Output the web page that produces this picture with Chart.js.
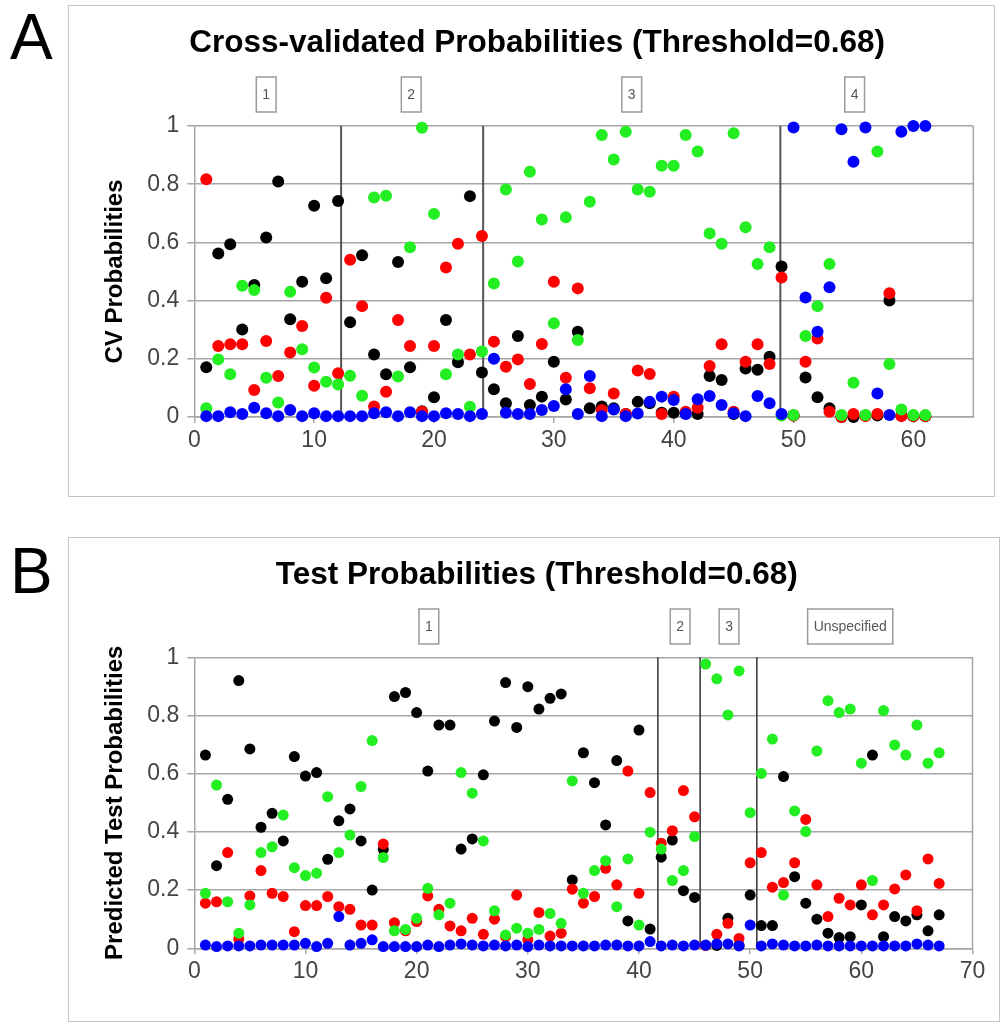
<!DOCTYPE html>
<html>
<head>
<meta charset="utf-8">
<script src="https://cdn.jsdelivr.net/npm/chart.js@4.4.1/dist/chart.umd.min.js"></script>
<style>
  body { margin: 0; background: #fff; width: 1003px; height: 1025px; position: relative; overflow: hidden;
         font-family: "Liberation Sans", Arial, sans-serif; }
  .frame { position: absolute; border: 1.5px solid #c4c4c4; box-sizing: border-box; }
  .letter { position: absolute; font-size: 64px; line-height: 1; color: #000; }
  canvas { position: absolute; }
</style>
</head>
<body>
<div class="letter" style="left:10px;top:5px">A</div>
<div class="letter" style="left:10px;top:539px">B</div>
<div class="frame" style="left:68px;top:5px;width:927px;height:492px"></div>
<div class="frame" style="left:68px;top:537px;width:932px;height:485px"></div>
<canvas id="cv" width="927" height="492" style="left:68px;top:5px"></canvas>
<canvas id="test" width="932" height="485" style="left:68px;top:537px"></canvas>
<script>
// panel A: cross-validated probabilities, samples 1..61
const cvBlack = [0.171,0.562,0.594,0.301,0.454,0.617,0.809,0.336,0.465,0.726,
  0.477,0.742,0.326,0.556,0.215,0.147,0.533,0.171,0.02,0.068,
  0.333,0.188,0.759,0.153,0.095,0.047,0.278,0.041,0.07,0.19,
  0.06,0.293,0.03,0.036,0.03,0.01,0.052,0.047,0.015,0.015,
  0.012,0.01,0.141,0.127,0.01,0.167,0.162,0.207,0.517,0.005,
  0.136,0.068,0.03,0.0,0.0,0.005,0.005,0.4,0.005,0.003,
  0.003];
const cvRed = [0.817,0.244,0.25,0.25,0.093,0.261,0.141,0.222,0.313,0.107,
  0.41,0.15,0.54,0.381,0.036,0.087,0.333,0.244,0.018,0.244,
  0.514,0.595,0.215,0.622,0.259,0.173,0.198,0.113,0.251,0.465,
  0.135,0.442,0.099,0.024,0.081,0.01,0.16,0.148,0.01,0.07,
  0.018,0.032,0.175,0.25,0.018,0.19,0.25,0.182,0.479,0.005,
  0.19,0.27,0.018,0.0,0.01,0.003,0.01,0.425,0.003,0.003,
  0.003];
const cvGreen = [0.03,0.198,0.147,0.451,0.436,0.135,0.05,0.43,0.233,0.17,
  0.121,0.112,0.142,0.073,0.754,0.76,0.139,0.583,0.994,0.698,
  0.147,0.215,0.035,0.225,0.459,0.782,0.534,0.843,0.679,0.322,
  0.686,0.265,0.74,0.969,0.885,0.98,0.782,0.774,0.863,0.863,
  0.969,0.912,0.631,0.595,0.975,0.652,0.526,0.583,0.005,0.007,
  0.278,0.381,0.526,0.007,0.118,0.007,0.912,0.182,0.026,0.007,
  0.007];
const cvBlue = [0.003,0.003,0.016,0.01,0.032,0.013,0.003,0.024,0.003,0.013,
  0.003,0.003,0.003,0.003,0.013,0.016,0.003,0.016,0.003,0.003,
  0.013,0.01,0.003,0.01,0.2,0.015,0.01,0.01,0.024,0.038,
  0.095,0.01,0.141,0.003,0.026,0.003,0.012,0.052,0.07,0.058,
  0.01,0.061,0.072,0.041,0.013,0.003,0.072,0.047,0.01,0.995,
  0.411,0.293,0.446,0.989,0.877,0.995,0.081,0.007,0.98,1.0,
  1.0];
const cvGroupLines = [12.25, 24.1, 48.9];
const cvGroupLabels = ['1', '2', '3', '4'];
const cvGroupCenters = [6.0, 18.1, 36.5, 55.1];

// panel B: test probabilities, samples 1..67
const testBlack = [0.664,0.284,0.512,0.92,0.685,0.416,0.464,0.369,0.659,0.592,
  0.604,0.306,0.438,0.479,0.369,0.2,0.34,0.865,0.879,0.81,
  0.609,0.767,0.767,0.341,0.376,0.596,0.781,0.913,0.759,0.899,
  0.822,0.859,0.874,0.235,0.672,0.569,0.424,0.645,0.094,0.75,
  0.066,0.313,0.372,0.198,0.175,0.01,0.01,0.103,0.01,0.183,
  0.078,0.078,0.59,0.246,0.155,0.1,0.052,0.037,0.04,0.149,
  0.664,0.04,0.109,0.094,0.115,0.06,0.115];
const testRed = [0.155,0.16,0.329,0.032,0.18,0.267,0.189,0.178,0.057,0.147,
  0.147,0.178,0.143,0.134,0.08,0.08,0.358,0.088,0.06,0.092,
  0.18,0.134,0.077,0.06,0.103,0.048,0.1,0.04,0.183,0.03,
  0.123,0.042,0.052,0.203,0.155,0.178,0.275,0.218,0.609,0.189,
  0.535,0.361,0.404,0.542,0.452,0.01,0.048,0.086,0.034,0.294,
  0.329,0.21,0.226,0.294,0.443,0.218,0.109,0.172,0.149,0.218,
  0.115,0.149,0.204,0.252,0.129,0.307,0.223];
const testGreen = [0.189,0.561,0.16,0.052,0.149,0.329,0.349,0.458,0.277,0.25,
  0.258,0.521,0.329,0.389,0.556,0.714,0.312,0.06,0.065,0.103,
  0.206,0.115,0.155,0.604,0.533,0.369,0.129,0.046,0.069,0.052,
  0.065,0.12,0.086,0.575,0.189,0.267,0.301,0.143,0.307,0.08,
  0.399,0.341,0.233,0.267,0.384,0.977,0.926,0.802,0.953,0.466,
  0.601,0.719,0.183,0.472,0.401,0.678,0.851,0.81,0.822,0.636,
  0.233,0.817,0.699,0.664,0.767,0.636,0.672];
const testBlue = [0.011,0.006,0.008,0.008,0.008,0.011,0.011,0.011,0.011,0.017,
  0.006,0.017,0.109,0.011,0.017,0.029,0.006,0.006,0.006,0.006,
  0.011,0.006,0.011,0.015,0.011,0.008,0.011,0.008,0.011,0.006,
  0.011,0.008,0.008,0.008,0.008,0.008,0.011,0.011,0.008,0.008,
  0.023,0.008,0.011,0.008,0.011,0.011,0.015,0.015,0.008,0.08,
  0.008,0.015,0.011,0.008,0.008,0.011,0.008,0.008,0.008,0.008,
  0.008,0.008,0.008,0.008,0.015,0.011,0.008];
const testGroupLines = [41.7, 45.5, 50.6];
const testGroupLabels = ['1', '2', '3', 'Unspecified'];
const testGroupCenters = [21.1, 43.7, 48.1, 59.0];

const GRID = '#a6a6a6';
Chart.defaults.font.family = '"Liberation Sans", Arial, sans-serif';

function points(values) {
  return values.map((v, i) => ({ x: i + 1, y: v }));
}

// plot frame, group separators and the little group label boxes
const panelDecor = {
  id: 'panelDecor',
  beforeDatasetsDraw(chart, args, o) {
    const { ctx, chartArea: a, scales: { x } } = chart;
    ctx.save();
    ctx.strokeStyle = GRID;
    ctx.lineWidth = 1.5;
    ctx.beginPath();
    ctx.moveTo(a.right, a.top);
    ctx.lineTo(a.right, a.bottom);
    ctx.stroke();
    ctx.strokeStyle = o.lineColor;
    ctx.lineWidth = o.lineWidth;
    o.lines.forEach(v => {
      const px = x.getPixelForValue(v);
      ctx.beginPath();
      ctx.moveTo(px, a.top);
      ctx.lineTo(px, a.bottom);
      ctx.stroke();
    });
    ctx.restore();
  },
  afterDraw(chart, args, o) {
    const { ctx, scales: { x } } = chart;
    ctx.save();
    ctx.font = '14px "Liberation Sans", Arial, sans-serif';
    ctx.textAlign = 'center';
    ctx.textBaseline = 'middle';
    o.labels.forEach((txt, i) => {
      const cx = x.getPixelForValue(o.centers[i]);
      const w = ctx.measureText(txt).width + 12;
      const h = 35, cy = 89.5;
      ctx.fillStyle = '#fff';
      ctx.fillRect(cx - w / 2, cy - h / 2, w, h);
      ctx.strokeStyle = '#9a9a9a';
      ctx.lineWidth = 1.5;
      ctx.strokeRect(cx - w / 2, cy - h / 2, w, h);
      ctx.fillStyle = '#555';
      ctx.fillText(txt, cx, cy + 1);
    });
    ctx.restore();
  }
};

function makePanel(id, cfg) {
  const dot = (label, data, color) => ({
    label, data: points(data),
    backgroundColor: color, borderColor: color, borderWidth: 0,
    pointRadius: cfg.radius, pointHoverRadius: cfg.radius, clip: false
  });
  return new Chart(document.getElementById(id), {
    type: 'scatter',
    data: {
      // first dataset is drawn on top
      datasets: [
        dot('Blue', cfg.blue, '#0000ff'),
        dot('Green', cfg.green, '#22ee22'),
        dot('Red', cfg.red, '#ff0000'),
        dot('Black', cfg.black, '#000000')
      ]
    },
    options: {
      responsive: false,
      animation: false,
      devicePixelRatio: 1,
      layout: { padding: cfg.padding },
      plugins: {
        legend: { display: false },
        tooltip: { enabled: false },
        title: {
          display: true, text: cfg.title, color: '#000',
          font: { size: 31.5, weight: 'bold' },
          padding: { top: 19, bottom: cfg.titleGap }
        },
        panelDecor: {
          lines: cfg.lines, lineColor: cfg.lineColor, lineWidth: cfg.lineWidth,
          labels: cfg.labels, centers: cfg.centers
        }
      },
      scales: {
        x: {
          type: 'linear', min: 0, max: cfg.xMax,
          ticks: { stepSize: 10, includeBounds: false, color: '#444', font: { size: 23 }, padding: 4 },
          grid: { drawOnChartArea: false, tickLength: 6, color: GRID, lineWidth: 1.5 },
          border: { color: GRID, width: 1.5 },
          afterFit: s => { s.height = 50; }
        },
        y: {
          min: 0, max: 1,
          ticks: {
            stepSize: 0.2, color: '#444', font: { size: 23 }, padding: 8,
            callback: v => String(Number(v.toFixed(2)))
          },
          grid: { color: GRID, lineWidth: 1.5, tickLength: 7 },
          border: { color: GRID, width: 1.5 },
          title: { display: true, text: cfg.yTitle, color: '#000', font: { size: 24, weight: 'bold' }, padding: 0 },
          afterFit: s => { s.width = 93.3; }
        }
      }
    },
    plugins: [panelDecor]
  });
}

makePanel('cv', {
  title: 'Cross-validated Probabilities (Threshold=0.68)',
  yTitle: 'CV Probabilities',
  black: cvBlack, red: cvRed, green: cvGreen, blue: cvBlue,
  lines: cvGroupLines, lineColor: '#555', lineWidth: 2,
  labels: cvGroupLabels, centers: cvGroupCenters,
  xMax: 65, radius: 6, titleGap: 64.2,
  padding: { left: 33, right: 21.7, top: 0, bottom: 30 }
});

makePanel('test', {
  title: 'Test Probabilities (Threshold=0.68)',
  yTitle: 'Predicted Test Probabilities',
  black: testBlack, red: testRed, green: testGreen, blue: testBlue,
  lines: testGroupLines, lineColor: '#333', lineWidth: 1.5,
  labels: testGroupLabels, centers: testGroupCenters,
  xMax: 70, radius: 5.5, titleGap: 63.5,
  padding: { left: 33, right: 27.5, top: 0, bottom: 23.7 }
});
</script>
</body>
</html>
